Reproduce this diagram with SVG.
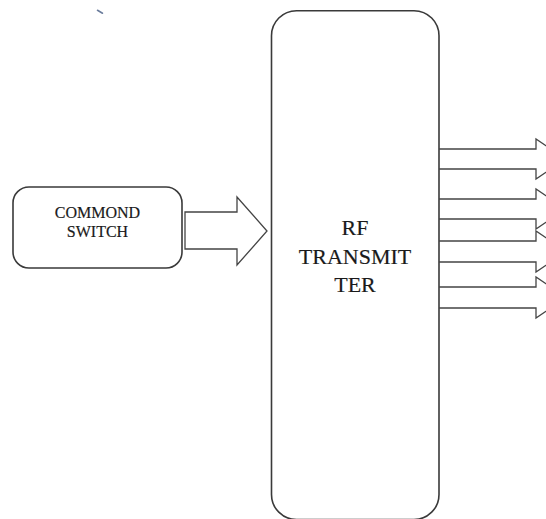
<svg xmlns="http://www.w3.org/2000/svg" width="546" height="519" viewBox="0 0 546 519">
<style>
.box{fill:#fff;stroke:#3a3a3a;stroke-width:1.6}
.arr{fill:none;stroke:#444;stroke-width:1.3;stroke-linejoin:miter}
.t{font-family:'Liberation Serif','DejaVu Serif',serif;fill:#1a1a1a;stroke:#1a1a1a;stroke-width:0.18;text-anchor:middle}
</style>
<rect width="546" height="519" fill="#fff"/>
<path d="M97.5,10.3 L102.5,13.2" stroke="#6a7c9c" stroke-width="1.6" stroke-linecap="round"/>
<g id="commond-switch">
<rect class="box" x="13" y="187" width="169" height="81" rx="16" ry="16"/>
<text class="t" font-size="16" x="97.5" y="218">COMMOND</text>
<text class="t" font-size="16" x="97.5" y="237">SWITCH</text>
</g>
<g id="rf-transmitter">
<rect class="box" x="271.5" y="10.7" width="167.5" height="508.8" rx="25" ry="25"/>
<text class="t" font-size="22" x="355" y="235">RF</text>
<text class="t" font-size="22" x="355" y="263.5">TRANSMIT</text>
<text class="t" font-size="22" x="355" y="292">TER</text>
</g>
<g id="connectors">
<path class="arr" d="M185,212 L237,212 L237,197 L267,231 L237,265 L237,249 L185,249 Z"/>
<path class="arr" d="M439,149 L536,149 L536,139 L566,159 L536,179 L536,169 L439,169"/>
<path class="arr" d="M439,199 L536,199 L536,189 L566,209 L536,229 L536,219 L439,219"/>
<path class="arr" d="M439,241 L536,241 L536,231 L566,251.5 L536,272 L536,262 L439,262"/>
<path class="arr" d="M439,287 L536,287 L536,277 L566,297.5 L536,318 L536,308 L439,308"/>
</g>
</svg>
